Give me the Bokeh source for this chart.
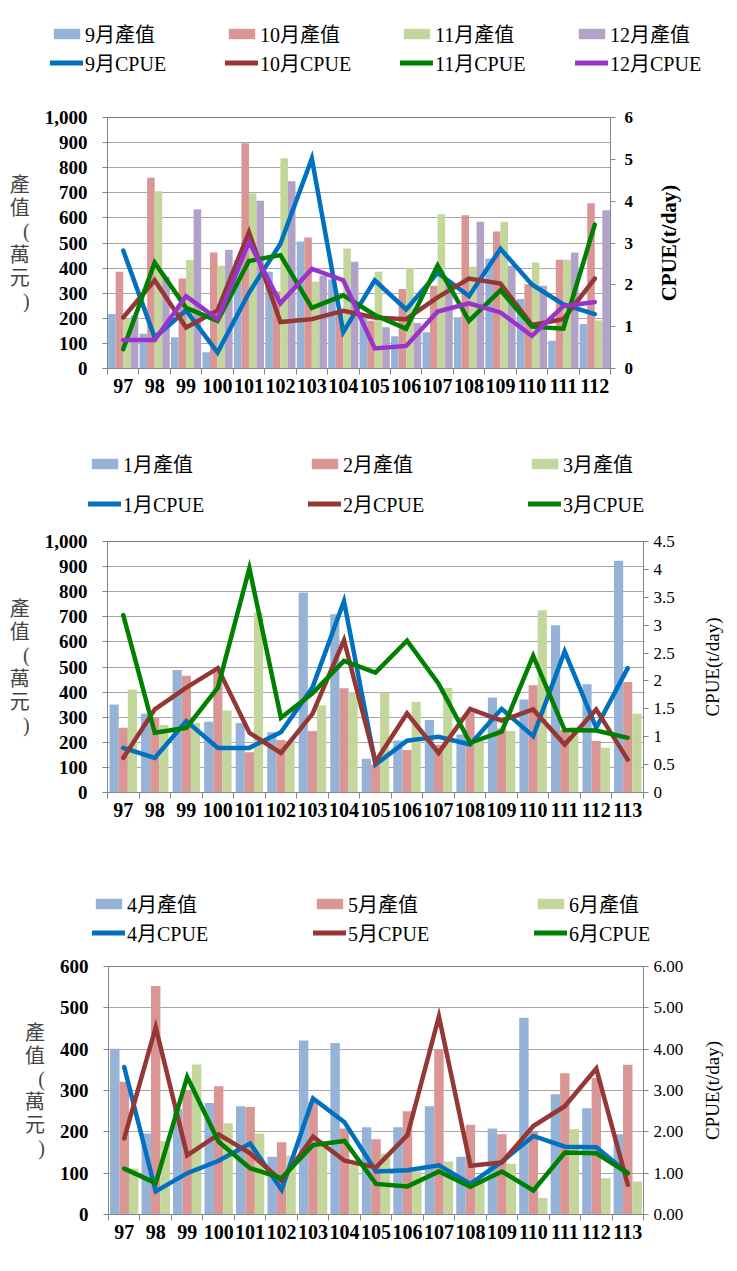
import math
from bokeh.plotting import figure
from bokeh.models import Range1d, LinearAxis, FixedTicker, NumeralTickFormatter, Legend, LegendItem, Label
from bokeh.layouts import row
from bokeh.embed import file_html
from bokeh.resources import INLINE

SERIF = "'Liberation Serif', 'Noto Sans CJK TC'"

# ---------------- data ----------------
years_a = [97, 98, 99, 100, 101, 102, 103, 104, 105, 106, 107, 108, 109, 110, 111, 112]
val_sep = [217, 138, 125, 65, 432, 385, 506, 355, 210, 128, 144, 204, 438, 277, 111, 177]
val_oct = [385, 760, 359, 462, 897, 307, 522, 230, 190, 317, 330, 611, 546, 336, 433, 658]
val_nov = [197, 706, 432, 409, 697, 838, 346, 478, 385, 399, 615, 405, 585, 422, 433, 191]
val_dec = [210, 366, 634, 473, 668, 746, 370, 425, 164, 181, 350, 585, 409, 330, 462, 630]
cpue_sep = [2.82, 0.74, 1.39, 0.38, 1.81, 2.98, 5.02, 0.87, 2.11, 1.41, 2.29, 1.73, 2.86, 2.01, 1.53, 1.30]
cpue_oct = [1.22, 2.11, 0.98, 1.39, 3.26, 1.11, 1.18, 1.38, 1.22, 1.18, 1.70, 2.15, 2.03, 1.04, 1.18, 2.15]
cpue_nov = [0.46, 2.53, 1.45, 1.14, 2.57, 2.71, 1.45, 1.75, 1.28, 0.95, 2.46, 1.14, 1.87, 1.00, 0.95, 3.44]
cpue_dec = [0.68, 0.68, 1.73, 1.18, 3.03, 1.56, 2.38, 2.11, 0.48, 0.54, 1.36, 1.56, 1.34, 0.78, 1.49, 1.59]

years_b = [97, 98, 99, 100, 101, 102, 103, 104, 105, 106, 107, 108, 109, 110, 111, 112, 113]
val_jan = [351, 314, 488, 282, 277, 240, 797, 710, 134, 207, 289, 231, 378, 371, 666, 431, 923]
val_feb = [258, 300, 465, 480, 160, 209, 245, 415, 112, 169, 190, 320, 255, 427, 250, 205, 440]
val_mar = [410, 269, 278, 327, 717, 205, 348, 400, 398, 362, 416, 205, 245, 726, 262, 178, 314]
cpue_jan = [0.80, 0.62, 1.28, 0.80, 0.80, 1.08, 1.88, 3.43, 0.50, 0.93, 1.00, 0.86, 1.50, 1.01, 2.53, 1.16, 2.23]
cpue_feb = [0.62, 1.49, 1.88, 2.23, 1.07, 0.71, 1.41, 2.73, 0.55, 1.42, 0.71, 1.50, 1.29, 1.49, 0.86, 1.49, 0.59]
cpue_mar = [3.18, 1.07, 1.16, 1.88, 4.02, 1.34, 1.78, 2.36, 2.15, 2.72, 1.95, 0.89, 1.09, 2.45, 1.12, 1.11, 0.98]

years_c = [97, 98, 99, 100, 101, 102, 103, 104, 105, 106, 107, 108, 109, 110, 111, 112, 113]
val_apr = [401, 196, 255, 270, 262, 140, 421, 415, 211, 211, 262, 140, 208, 476, 291, 257, 194]
val_may = [321, 553, 300, 310, 260, 175, 273, 208, 182, 250, 399, 217, 194, 200, 342, 330, 362]
val_jun = [111, 178, 363, 221, 196, 143, 168, 120, 147, 104, 128, 80, 123, 40, 206, 88, 80]
cpue_apr = [3.57, 0.56, 1.00, 1.30, 1.72, 0.60, 2.81, 2.23, 1.04, 1.07, 1.19, 0.74, 1.28, 1.90, 1.64, 1.63, 1.00]
cpue_may = [1.84, 4.53, 1.43, 1.94, 1.48, 0.82, 1.88, 1.30, 1.14, 1.92, 4.79, 1.18, 1.26, 2.14, 2.62, 3.53, 0.72]
cpue_jun = [1.11, 0.76, 3.33, 1.76, 1.12, 0.88, 1.68, 1.78, 0.74, 0.68, 1.04, 0.67, 1.04, 0.58, 1.50, 1.48, 1.00]

names_a = ["9月", "10月", "11月", "12月"]
names_b = ["1月", "2月", "3月"]
names_c = ["4月", "5月", "6月"]

BAR_COLORS = ["#95B3D7", "#D99694", "#C3D69B", "#B3A2C7"]
LINE_COLORS = ["#0070C0", "#953735", "#008000", "#9933CC"]


def make_legend(width, height, years, vals, cpues, names, leg_x, leg_y, leg_lw, leg_spacing):
    # legend strip: same series drawn outside the visible range, only the legend shows
    p = figure(width=width, height=height, output_backend="svg", toolbar_location=None,
               x_range=Range1d(0, 1), y_range=Range1d(0, 1),
               x_axis_type=None, y_axis_type=None, min_border=0)
    p.outline_line_color = None
    p.grid.grid_line_color = None
    bar_items, line_items = [], []
    for i, (v, n) in enumerate(zip(vals, names)):
        r = p.vbar(x=years, top=v, width=0.3, fill_color=BAR_COLORS[i], line_color=None)
        bar_items.append(LegendItem(label=n + "產值", renderers=[r]))
    for i, (c, n) in enumerate(zip(cpues, names)):
        r = p.line(x=years, y=c, line_color=LINE_COLORS[i], line_width=5, line_cap="round")
        line_items.append(LegendItem(label=n + "CPUE", renderers=[r]))
    legend = Legend(items=bar_items + line_items, location=(leg_x, leg_y),
                    orientation="horizontal", ncols=len(names))
    legend.border_line_color = None
    legend.background_fill_alpha = 0
    legend.padding = 0
    legend.margin = 0
    legend.spacing = leg_spacing
    legend.glyph_width = 33
    legend.glyph_height = 13
    legend.label_standoff = 2
    legend.label_width = leg_lw
    legend.label_height = 20
    legend.label_text_font = SERIF
    legend.label_text_font_size = "20px"
    legend.label_text_color = "black"
    p.add_layout(legend, "center")
    return p


def make_panel(width, height, fl, fr, ft, fb, years, vals, cpues, bar_w, offsets,
               y_max, y_step, c_max, c_step, c_fmt, right_tick_bold, right_tick_size,
               right_tick_standoff):
    p = figure(width=width, height=height, output_backend="svg", toolbar_location=None,
               x_range=Range1d(years[0] - 0.5, years[-1] + 0.5), y_range=Range1d(0, y_max),
               min_border_left=fl, min_border_right=width - fr,
               min_border_top=ft, min_border_bottom=height - fb)
    p.extra_y_ranges = {"cpue": Range1d(0, c_max)}
    p.background_fill_color = "white"
    p.border_fill_color = "white"
    p.outline_line_color = "#7F7F7F"
    p.outline_line_width = 1

    for i, v in enumerate(vals):
        xs = [y + offsets[i] for y in years]
        p.vbar(x=xs, top=v, width=bar_w, fill_color=BAR_COLORS[i], line_color=None)
    for i, c in enumerate(cpues):
        p.line(x=years, y=c, y_range_name="cpue", line_color=LINE_COLORS[i],
               line_width=4.5, line_join="miter", line_cap="round")

    left_ticks = list(range(0, y_max + 1, y_step))
    p.yaxis.ticker = FixedTicker(ticks=left_ticks)
    p.yaxis.formatter = NumeralTickFormatter(format="0,0")
    p.yaxis.major_label_text_font = SERIF
    p.yaxis.major_label_text_font_style = "bold"
    p.yaxis.major_label_text_font_size = "19px"
    p.yaxis.major_label_text_color = "black"
    p.yaxis.major_label_standoff = 15
    p.yaxis.axis_line_color = "#868686"
    p.yaxis.major_tick_line_color = "#868686"
    p.yaxis.major_tick_out = 5
    p.yaxis.major_tick_in = 0
    p.yaxis.minor_tick_line_color = None
    p.yaxis.axis_label = "產\n值\n(\n萬\n元\n)"
    p.yaxis.axis_label_orientation = "horizontal"
    p.yaxis.axis_label_text_font = SERIF
    p.yaxis.axis_label_text_font_style = "normal"
    p.yaxis.axis_label_text_font_size = "20px"
    p.yaxis.axis_label_text_line_height = 1.05
    p.yaxis.axis_label_standoff = 12

    p.ygrid.ticker = FixedTicker(ticks=left_ticks)
    p.ygrid.grid_line_color = "#A6A6A6"
    p.ygrid.grid_line_width = 1.2
    p.xgrid.grid_line_color = None

    bounds = [y - 0.5 for y in years] + [years[-1] + 0.5]
    p.xaxis.ticker = FixedTicker(ticks=years, minor_ticks=bounds)
    p.xaxis.major_tick_line_color = None
    p.xaxis.minor_tick_line_color = "#868686"
    p.xaxis.minor_tick_out = 6
    p.xaxis.minor_tick_in = 0
    p.xaxis.axis_line_color = "#868686"
    p.xaxis.major_label_text_font = SERIF
    p.xaxis.major_label_text_font_style = "bold"
    p.xaxis.major_label_text_font_size = "20px"
    p.xaxis.major_label_text_color = "black"
    p.xaxis.major_label_standoff = 4

    n_c = int(round(c_max / c_step))
    right_ticks = [round(k * c_step, 2) for k in range(n_c + 1)]
    ra = LinearAxis(y_range_name="cpue", ticker=FixedTicker(ticks=right_ticks),
                    formatter=NumeralTickFormatter(format=c_fmt))
    ra.axis_line_color = "#868686"
    ra.major_tick_line_color = "#868686"
    ra.major_tick_out = 5
    ra.major_tick_in = 0
    ra.minor_tick_line_color = None
    ra.major_label_text_font = SERIF
    ra.major_label_text_font_style = "bold" if right_tick_bold else "normal"
    ra.major_label_text_font_size = right_tick_size
    ra.major_label_standoff = right_tick_standoff
    ra.major_label_text_color = "black"
    p.add_layout(ra, "right")
    return p


def make_right_title(width, height, ft, fb, text, bold, size):
    # narrow strip whose frame matches the chart frame; holds the rotated CPUE title
    p = figure(width=width, height=height, output_backend="svg", toolbar_location=None,
               x_range=Range1d(0, 1), y_range=Range1d(0, 1),
               x_axis_type=None, y_axis_type=None,
               min_border_left=0, min_border_right=0,
               min_border_top=ft, min_border_bottom=height - fb)
    p.outline_line_color = None
    p.grid.grid_line_color = None
    lab = Label(x=0.5, y=0.5, text=text, angle=math.pi / 2,
                text_align="center", text_baseline="middle",
                text_font=SERIF, text_font_size=size,
                text_font_style="bold" if bold else "normal", text_color="black")
    p.add_layout(lab)
    return p


leg1 = make_legend(737, 95, years_a, [val_sep, val_oct, val_nov, val_dec],
                   [cpue_sep, cpue_oct, cpue_nov, cpue_dec], names_a, 50, 18, 140, 0)
p1 = make_panel(650, 325, 107, 610, 22, 273, years_a,
                [val_sep, val_oct, val_nov, val_dec], [cpue_sep, cpue_oct, cpue_nov, cpue_dec],
                0.24, [-0.36, -0.12, 0.12, 0.36],
                1000, 100, 6, 1, "0", True, "17px", 9)
t1 = make_right_title(36, 325, 22, 273, "CPUE(t/day)", True, "21px")

leg2 = make_legend(737, 105, years_b, [val_jan, val_feb, val_mar],
                   [cpue_jan, cpue_feb, cpue_mar], names_b, 88, 7, 174, 11)
p2 = make_panel(692, 325, 107, 643, 16, 267, years_b,
                [val_jan, val_feb, val_mar], [cpue_jan, cpue_feb, cpue_mar],
                0.29, [-0.29, 0.0, 0.29],
                1000, 100, 4.5, 0.5, "0.[0]", False, "17px", 5)
t2 = make_right_title(40, 325, 16, 267, "CPUE(t/day)", False, "19px")

leg3 = make_legend(737, 105, years_c, [val_apr, val_may, val_jun],
                   [cpue_apr, cpue_may, cpue_jun], names_c, 92, 8, 186, 0)
p3 = make_panel(692, 316, 108, 643, 11, 259, years_c,
                [val_apr, val_may, val_jun], [cpue_apr, cpue_may, cpue_jun],
                0.30, [-0.30, 0.0, 0.30],
                600, 100, 6, 1, "0.00", False, "17px", 5)
t3 = make_right_title(40, 316, 11, 259, "CPUE(t/day)", False, "19px")

roots = [leg1, row(p1, t1, spacing=0), leg2, row(p2, t2, spacing=0), leg3, row(p3, t3, spacing=0)]
open("out.html", "w").write(file_html(roots, INLINE))
